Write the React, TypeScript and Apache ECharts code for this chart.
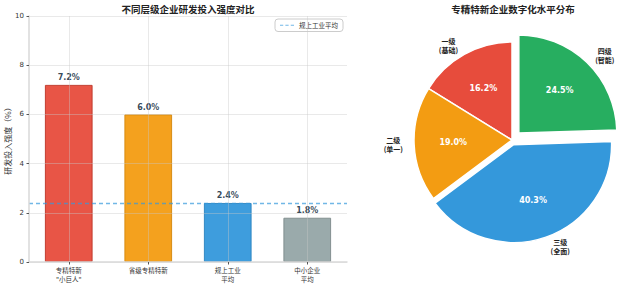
import React, { useEffect, useRef } from 'react';
import * as echarts from 'echarts';

// ---------- data ----------
const barTitle = '不同层级企业研发投入强度对比';
const barCategories = ['专精特新\n"小巨人"', '省级专精特新', '规上工业\n平均', '中小企业\n平均'];
const barValues = [7.2, 6.0, 2.4, 1.8];
const barColors = ['#e74c3c', '#f39c12', '#3498db', '#95a5a6'];
const barEdgeColors = ['#c0392b', '#d68910', '#2e86c1', '#7f8c8d'];
const yAxisName = '研发投入强度（%）';
const yMin = 0;
const yMax = 10;
const yInterval = 2;
const avgName = '规上工业平均';
const avgValue = 2.4;

const pieTitle = '专精特新企业数字化水平分布';
const pieNames = ['一级\n(基础)', '二级\n(单一)', '三级\n(全面)', '四级\n(智能)'];
const pieValues = [16.2, 19.0, 40.3, 24.5];
const pieColors = ['#e74c3c', '#f39c12', '#3498db', '#27ae60'];
const pieExplode = [0, 0, 0.05, 0.1];

// ---------- layout ----------
const CJK = '"Noto Sans CJK SC", "DejaVu Sans", sans-serif';
const NUM = '"DejaVu Sans", "Noto Sans CJK SC", sans-serif';
const R = 98;
const CX = 512;
const CY = 140;
const pctRadius = 2 * (0.6 * R - 3);
const labelDist = 0.1 * R;
const avgColor = '#3498db';
const dashIcon = 'path://M0,0H3V1H0Z M5,0H8V1H5Z M10,0H13V1H10Z';

function buildPieSeries() {
  const total = pieValues.reduce((a, b) => a + b, 0);
  const series: any[] = [];
  let cum = 0;
  pieValues.forEach((v, i) => {
    const mid = ((90 + (360 * (cum + v / 2)) / total) * Math.PI) / 180;
    cum += v;
    const off = pieExplode[i] * R;
    const center = [CX + off * Math.cos(mid), CY - off * Math.sin(mid)];
    const common = {
      type: 'pie',
      center,
      startAngle: 90,
      clockwise: false,
      silent: true,
      avoidLabelOverlap: false,
      emphasis: { disabled: true },
      animation: false,
    };
    series.push({
      ...common,
      name: 'pie-wedge-' + i,
      radius: [0, R],
      z: 2,
      label: {
        show: true,
        position: 'outside',
        distanceToLabelLine: 0,
        fontFamily: CJK,
        fontWeight: 'bold',
        fontSize: 7,
        color: '#222',
        formatter: (p: any) =>
          String(p.name)
            .split('\n')
            .map((s: string) => `{a|${s}}`)
            .join('\n'),
        rich: { a: { width: 22, align: 'center', fontSize: 7, fontWeight: 'bold', lineHeight: 9, fontFamily: CJK, color: '#222' } },
      },
      labelLine: { show: false, length: labelDist, length2: 0 },
      data: pieValues.map((val, j) => ({
        value: val,
        name: pieNames[j],
        itemStyle:
          j === i
            ? { color: pieColors[j], borderColor: '#ffffff', borderWidth: 1.5 }
            : { color: 'transparent', borderWidth: 0 },
        label: { show: j === i },
      })),
    });
    series.push({
      ...common,
      name: 'pie-pct-' + i,
      radius: [0, pctRadius],
      z: 3,
      label: {
        show: true,
        position: 'inside',
        fontFamily: NUM,
        fontWeight: 'bold',
        fontSize: 8,
        color: '#ffffff',
        formatter: (p: any) => p.percent.toFixed(1) + '%',
      },
      labelLine: { show: false },
      data: pieValues.map((val, j) => ({
        value: val,
        name: pieNames[j],
        itemStyle: { color: 'transparent', borderWidth: 0 },
        label: { show: j === i },
      })),
    });
  });
  return series;
}

export default function App() {
  const ref = useRef<HTMLDivElement>(null);
  useEffect(() => {
    if (!ref.current) return;
    const chart = echarts.init(ref.current, null, { renderer: 'svg' });
    const gridColor = 'rgba(200,200,200,0.4)';
    chart.setOption({
      animation: false,
      backgroundColor: '#ffffff',
      title: [
        {
          text: barTitle,
          left: 188,
          top: 4,
          padding: 0,
          textAlign: 'center',
          textStyle: { fontFamily: CJK, fontSize: 9.5, fontWeight: 'bold', color: '#222' },
        },
        {
          text: pieTitle,
          left: 513,
          top: 4,
          padding: 0,
          textAlign: 'center',
          textStyle: { fontFamily: CJK, fontSize: 9.5, fontWeight: 'bold', color: '#222' },
        },
      ],
      legend: {
        data: [{ name: avgName, icon: dashIcon, itemStyle: { color: avgColor, opacity: 0.7 } }],
        top: 19,
        right: 640 - 343,
        padding: [3, 5, 3, 5],
        borderColor: '#cccccc',
        borderWidth: 1,
        borderRadius: 3,
        backgroundColor: '#ffffff',
        itemWidth: 14,
        itemHeight: 6,
        itemGap: 4,
        textStyle: { fontFamily: CJK, fontSize: 6.5, color: '#333' },
      },
      grid: { left: 29, right: 293, top: 16, bottom: 24, containLabel: false },
      xAxis: {
        type: 'category',
        data: barCategories,
        z: 5,
        axisLine: { show: true, lineStyle: { color: '#d9d9d9', width: 1.5 } },
        axisTick: { show: true, alignWithLabel: true, length: 2.5, lineStyle: { color: '#555' } },
        splitLine: { show: true, alignWithLabel: true, lineStyle: { color: gridColor, width: 1 } },
        axisLabel: {
          interval: 0,
          margin: 4,
          fontFamily: CJK,
          fontSize: 6.5,
          lineHeight: 8.5,
          color: '#333',
        },
      },
      yAxis: {
        type: 'value',
        min: yMin,
        max: yMax,
        interval: yInterval,
        z: 5,
        name: yAxisName,
        nameLocation: 'middle',
        nameGap: 18,
        nameTextStyle: { fontFamily: CJK, fontSize: 8, color: '#333' },
        axisLine: { show: true, lineStyle: { color: '#d9d9d9', width: 1.5 } },
        axisTick: { show: true, length: 2.5, lineStyle: { color: '#555' } },
        splitLine: { show: true, lineStyle: { color: gridColor, width: 1 } },
        axisLabel: { margin: 5, fontFamily: NUM, fontSize: 7, color: '#333' },
      },
      series: [
        {
          type: 'bar',
          name: 'bars',
          barWidth: '60%',
          z: 2,
          silent: true,
          data: barValues.map((v, i) => ({
            value: v,
            itemStyle: { color: barColors[i], borderColor: barEdgeColors[i], borderWidth: 1, opacity: 0.95 },
          })),
          label: {
            show: true,
            position: 'top',
            distance: 3,
            fontFamily: NUM,
            fontWeight: 'bold',
            fontSize: 8,
            color: '#2c3e50',
            formatter: (p: any) => Number(p.value).toFixed(1) + '%',
          },
          markLine: {
            silent: true,
            symbol: ['none', 'none'],
            label: { show: false },
            z: 4,
            emphasis: { disabled: true },
            lineStyle: { color: avgColor, type: [4, 3], width: 1.3, opacity: 0.7 },
            data: [{ yAxis: avgValue, lineStyle: { color: avgColor } }],
          },
        },
        {
          type: 'line',
          name: avgName,
          data: [],
          symbol: 'none',
          z: 3,
          lineStyle: { color: avgColor, type: 'dashed', width: 1 },
          itemStyle: { color: avgColor },
        },
        ...buildPieSeries(),
      ],
    });
    return () => chart.dispose();
  }, []);
  return <div ref={ref} style={{ width: 640, height: 286, position: 'absolute', left: 0, top: 0 }} />;
}
